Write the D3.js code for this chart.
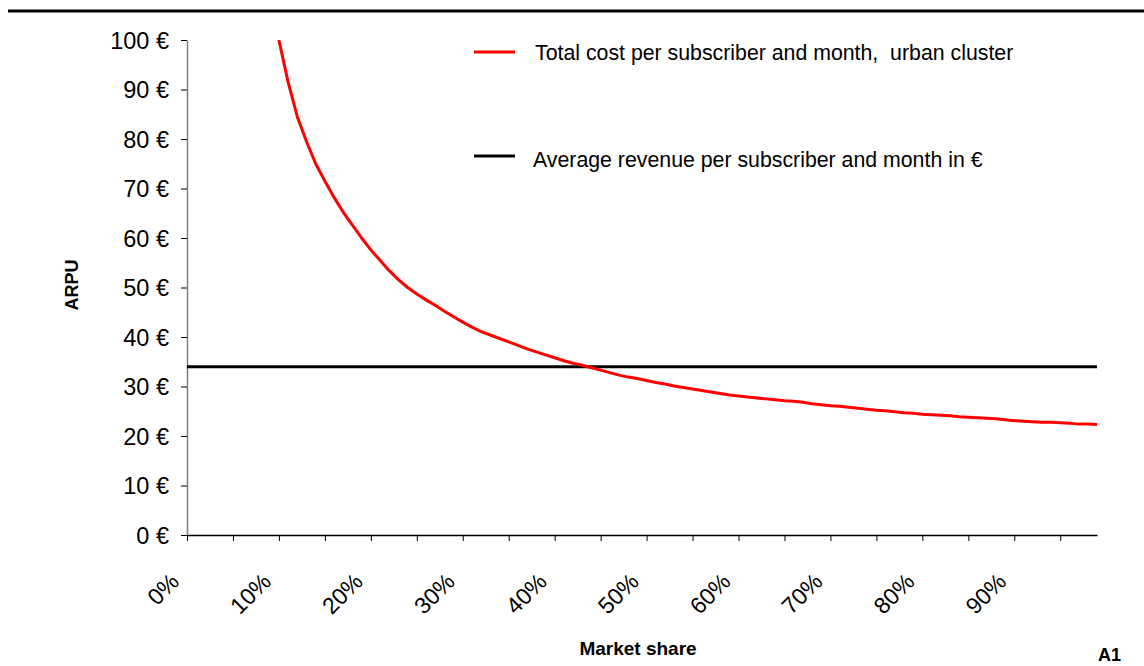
<!DOCTYPE html>
<html>
<head>
<meta charset="utf-8">
<script src="https://cdn.jsdelivr.net/npm/d3@7"></script>
<style>
  html, body { margin: 0; padding: 0; background: #fff; }
  svg { display: block; font-family: "Liberation Sans", Arial, sans-serif; }
</style>
</head>
<body>
<svg id="chart" width="1144" height="666"></svg>
<script>
// ---- data ----
const marketShare = [10,11,12,13,14,15,16,17,18,19,20,21,22,23,24,25,26,27,28,29,
  30,31,32,33,34,35,36,37,38,39,40,41,42,43,44,45,46,47,48,49,
  50,51,52,53,54,55,56,57,58,59,60,61,62,63,64,65,66,67,68,69,
  70,71,72,73,74,75,76,77,78,79,80,81,82,83,84,85,86,87,88,89,
  90,91,92,93,94,95,96,97,98,99];
const totalCost = [100,91.5,84.5,79.5,75,71.5,68.2,65.2,62.6,60,57.6,55.5,53.4,51.6,50,48.7,47.5,46.4,45.2,44.1,
  43,42,41.1,40.4,39.7,39,38.3,37.6,37,36.4,35.8,35.2,34.7,34.3,33.8,33.3,32.8,32.3,31.9,31.6,
  31.2,30.8,30.5,30.1,29.8,29.5,29.2,28.9,28.6,28.3,28.1,27.9,27.7,27.5,27.3,27.1,27.0,26.8,26.5,26.3,
  26.1,26.0,25.8,25.6,25.4,25.2,25.1,24.9,24.7,24.6,24.4,24.3,24.2,24.1,23.9,23.8,23.7,23.6,23.5,23.3,
  23.1,23.0,22.9,22.8,22.8,22.7,22.6,22.4,22.4,22.3];
const arpuValue = 34;
const xDomain = [0, 99];
const xTickValues = [0,5,10,15,20,25,30,35,40,45,50,55,60,65,70,75,80,85,90,95];
const xLabelValues = [0,10,20,30,40,50,60,70,80,90];
const yTickValues = [0,10,20,30,40,50,60,70,80,90,100];
const legendLabels = ["Total cost per subscriber and month,\u00a0 urban cluster",
                      "Average revenue per subscriber and month in \u20ac"];
const xTitle = "Market share";
const yTitle = "ARPU";
const pageMark = "A1";

// ---- layout ----
const svg = d3.select("#chart");
const plotLeft = 187, plotRight = 1097, plotTop = 40, plotBottom = 535;

const x = d3.scaleLinear().domain(xDomain).range([plotLeft, plotRight]);
const y = d3.scaleLinear().domain([0, 100]).range([plotBottom, plotTop]);

// top rule
svg.append("line").attr("x1", 8).attr("x2", 1144).attr("y1", 11).attr("y2", 11)
  .attr("stroke", "#000").attr("stroke-width", 3);

// y axis
const yAxis = svg.append("g").attr("transform", `translate(${plotLeft},0)`)
  .call(d3.axisLeft(y).tickValues(yTickValues).tickSize(6).tickSizeOuter(0)
    .tickFormat(d => d + " \u20ac"));
yAxis.select(".domain").attr("stroke", "#808080").attr("stroke-width", 1.5);
yAxis.selectAll(".tick line").attr("stroke", "#000");
yAxis.selectAll(".tick text").attr("font-size", 23.5).attr("fill", "#000")
  .attr("x", -18).attr("dy", "0.36em").style("font-family", "Liberation Sans, Arial, sans-serif");

// x axis
const xAxis = svg.append("g").attr("transform", `translate(0,${plotBottom})`)
  .call(d3.axisBottom(x).tickValues(xTickValues).tickSize(6).tickSizeOuter(0)
    .tickFormat(d => xLabelValues.includes(d) ? d + "%" : ""));
xAxis.select(".domain").attr("stroke", "#000").attr("stroke-width", 1.5);
xAxis.selectAll(".tick line").attr("stroke", "#000");
xAxis.selectAll(".tick text")
  .attr("font-size", 23).attr("fill", "#000")
  .style("font-family", "Liberation Sans, Arial, sans-serif")
  .attr("text-anchor", "end")
  .attr("y", 0).attr("dy", 0)
  .attr("transform", "translate(-7,48) rotate(-45)");

// ARPU line
svg.append("line")
  .attr("x1", x(xDomain[0])).attr("x2", x(xDomain[1]))
  .attr("y1", y(arpuValue)).attr("y2", y(arpuValue))
  .attr("stroke", "#000").attr("stroke-width", 3);

// cost line
const line = d3.line().x((d, i) => x(marketShare[i])).y(d => y(d));
svg.append("path").datum(totalCost)
  .attr("d", line).attr("fill", "none")
  .attr("stroke", "#ff0000").attr("stroke-width", 3).attr("stroke-linejoin", "round");

// axis titles
svg.append("text").attr("x", 638).attr("y", 655).attr("text-anchor", "middle")
  .attr("font-size", 19).attr("font-weight", "bold").text(xTitle);
svg.append("text").attr("transform", "translate(78,285) rotate(-90)")
  .attr("text-anchor", "middle").attr("font-size", 18).attr("font-weight", "bold").text(yTitle);

// legend
const legend = [
  {label: legendLabels[0], color: "#ff0000", ly: 52, tx: 535, ty: 53},
  {label: legendLabels[1], color: "#000000", ly: 156, tx: 533, ty: 160}
];
legend.forEach(l => {
  svg.append("line").attr("x1", 474).attr("x2", 515).attr("y1", l.ly).attr("y2", l.ly)
    .attr("stroke", l.color).attr("stroke-width", 3);
  svg.append("text").attr("x", l.tx).attr("y", l.ty).attr("dy", "0.35em")
    .attr("font-size", 21.3).attr("fill", "#000").text(l.label);
});

// page marker
svg.append("text").attr("x", 1098).attr("y", 661).attr("font-size", 18)
  .attr("font-weight", "bold").text(pageMark);
</script>
</body>
</html>
